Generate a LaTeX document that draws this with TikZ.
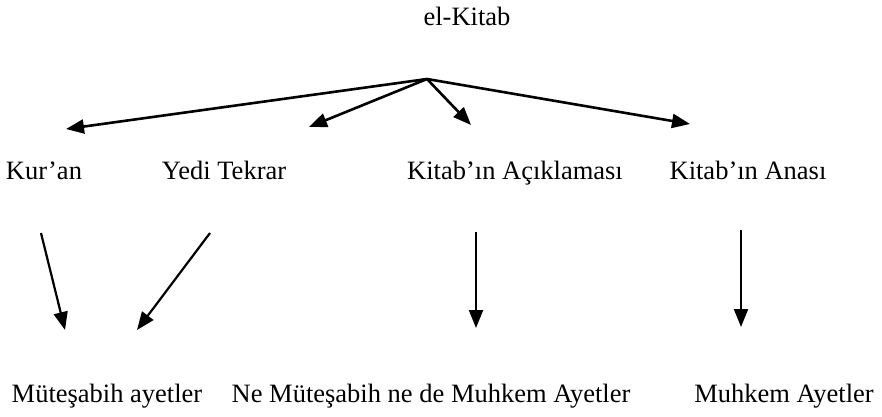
\documentclass[tikz,border=0pt]{standalone}
\usepackage{fontspec}
\setmainfont{Liberation Serif}
\usetikzlibrary{arrows.meta}
\begin{document}
\begin{tikzpicture}[x=1pt,y=-1pt,
  t/.style={inner sep=0pt,anchor=base,font=\fontsize{26.5}{30}\selectfont},
  a/.style={line width=2.6pt,-{Triangle[length=18pt,width=14pt]}}]
\useasboundingbox (0,0) rectangle (882,416);
\node[t] (kitab) at (467,25) {el-Kitab};
\coordinate (hub) at (427,79);
\node[t] (kuran) at (44,179) {Kur’an};
\node[t] (yedi) at (224,179) {Yedi Tekrar};
\node[t] (acik) at (515,179) {Kitab’ın Açıklaması};
\node[t] (ana) at (748,179) {Kitab’ın Anası};
\node[t] (mut) at (107,402) {Müteşabih ayetler};
\node[t] (ne) at (431,402) {Ne Müteşabih ne de Muhkem Ayetler};
\node[t] (muh) at (784,402) {Muhkem Ayetler};
\coordinate (k1) at (66,129);
\coordinate (y1) at (309,127);
\coordinate (a1) at (471,125);
\coordinate (n1) at (690,124);
\coordinate (k2) at (41,233);
\coordinate (k3) at (65,330);
\coordinate (y2) at (210,233);
\coordinate (y3) at (137,330);
\coordinate (a2) at (476,232);
\coordinate (a3) at (476,328);
\coordinate (n2) at (741,230);
\coordinate (n3) at (741,327);
\draw[a] (hub)--(k1);
\draw[a] (hub)--(y1);
\draw[a] (hub)--(a1);
\draw[a] (hub)--(n1);
\draw[a,line width=2.2pt] (k2)--(k3);
\draw[a,line width=2.2pt] (y2)--(y3);
\draw[a,line width=2.2pt] (a2)--(a3);
\draw[a,line width=2.2pt] (n2)--(n3);
\end{tikzpicture}
\end{document}
